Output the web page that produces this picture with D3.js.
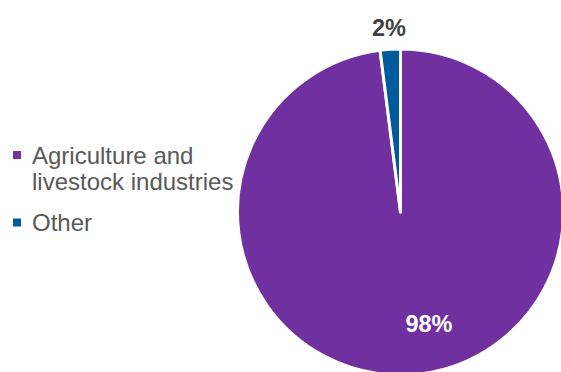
<!DOCTYPE html>
<html>
<head>
<meta charset="utf-8">
<script src="https://cdn.jsdelivr.net/npm/d3@7"></script>
<style>
  html, body { margin: 0; padding: 0; background: #ffffff; }
  svg { display: block; font-family: "Liberation Sans", Arial, sans-serif; }
</style>
</head>
<body>
<svg id="chart" width="561" height="372"></svg>
<script>
// Share of the total by source
const categories = ["Agriculture and livestock industries", "Other"];
const legendLines = [["Agriculture and", "livestock industries"], ["Other"]];
const shares = [98, 2];
const valueLabels = ["98%", "2%"];
const colors = ["#7030a0", "#005a9e"];

const svg = d3.select("#chart");
const cx = 400.5, cy = 212, radius = 163;

const pie = d3.pie().sort(null).value(d => d);
const arcs = pie(shares);
const arc = d3.arc().innerRadius(0).outerRadius(radius);

const g = svg.append("g").attr("transform", `translate(${cx},${cy})`);

g.selectAll("path.slice")
  .data(arcs)
  .join("path")
  .attr("class", "slice")
  .attr("d", arc)
  .attr("fill", (d, i) => colors[i])
  .attr("stroke", "#ffffff")
  .attr("stroke-width", 3)
  .attr("stroke-linejoin", "round");

// Large slice: label inside the pie; small slice: label just outside the rim
const insideArc = d3.arc().innerRadius(116).outerRadius(116);
const outsideArc = d3.arc().innerRadius(radius + 21).outerRadius(radius + 21);

g.selectAll("text.value")
  .data(arcs)
  .join("text")
  .attr("class", "value")
  .each(function(d, i) {
    let p;
    if (i === 0) {
      // nudge the inner label toward the lower right of the slice
      const a = d.startAngle + (d.endAngle - d.startAngle) * 0.47;
      p = insideArc.centroid({startAngle: a, endAngle: a});
    } else {
      p = outsideArc.centroid(d);
    }
    d3.select(this).attr("x", p[0]).attr("y", p[1]);
  })
  .attr("text-anchor", "middle")
  .attr("dominant-baseline", "central")
  .attr("font-size", 23.5)
  .attr("font-weight", "bold")
  .attr("fill", (d, i) => i === 0 ? "#ffffff" : "#404040")
  .text((d, i) => valueLabels[i]);

// Legend
const legend = svg.append("g").attr("transform", "translate(13,0)");
const legendTops = [163.5, 231];
categories.forEach((c, i) => {
  const item = legend.append("g");
  item.append("rect")
    .attr("x", 0)
    .attr("y", legendTops[i] - 12.5)
    .attr("width", 8)
    .attr("height", 8)
    .attr("fill", colors[i]);
  const t = item.append("text")
    .attr("x", 19)
    .attr("y", legendTops[i])
    .attr("font-size", 24)
    .attr("fill", "#595959");
  legendLines[i].forEach((line, j) => {
    t.append("tspan").attr("x", 19).attr("dy", j === 0 ? 0 : 26.5).text(line);
  });
});
</script>
</body>
</html>
